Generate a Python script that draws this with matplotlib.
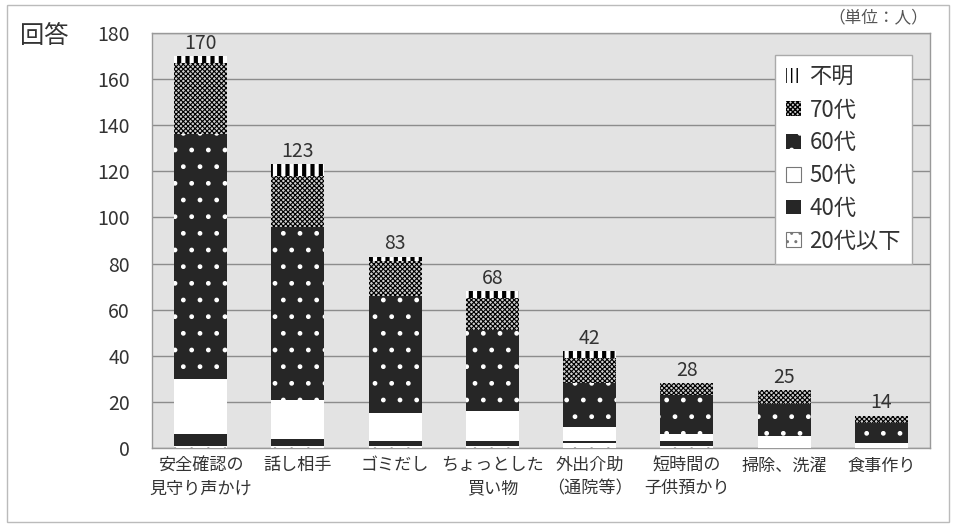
import matplotlib
matplotlib.use('Agg')
import matplotlib.pyplot as plt
from matplotlib.patches import Patch, Rectangle
import numpy as np

plt.rcParams['font.family'] = ['Noto Sans CJK JP', 'DejaVu Sans']
plt.rcParams['hatch.linewidth'] = 1.0

# data (persons)
categories = ['安全確認の\n見守り声かけ', '話し相手', 'ゴミだし', 'ちょっとした\n買い物',
              '外出介助\n（通院等）', '短時間の\n子供預かり', '掃除、洗濯', '食事作り']
age_20_under = [1, 1, 1, 1, 2, 1, 0, 0]
age_40 = [5, 3, 2, 2, 1, 2, 0, 0]
age_50 = [24, 17, 12, 13, 6, 3, 5, 2]
age_60 = [106, 75, 51, 35, 19, 17, 14, 9]
age_70 = [31, 22, 15, 14, 11, 5, 6, 3]
unknown = [3, 5, 2, 3, 3, 0, 0, 0]
totals = [170, 123, 83, 68, 42, 28, 25, 14]
yticks = [0, 20, 40, 60, 80, 100, 120, 140, 160, 180]

TXT = '#333333'
DARK = '#262626'

# (label, values, facecolor, hatchcolor, hatch, hatch linewidth)
series = [
    ('20代以下', age_20_under, 'white', 'black', '.', 1.0),
    ('40代', age_40, DARK, DARK, None, 1.0),
    ('50代', age_50, 'white', 'white', None, 1.0),
    ('60代', age_60, DARK, 'white', '.', 1.0),
    ('70代', age_70, '#d0d0d0', 'black', 'xxxxxxx', 0.8),
    ('不明', unknown, 'white', 'black', '||', 3.0),
]

fig = plt.figure(figsize=(9.57, 5.25), dpi=100)
ax = fig.add_axes([152/957, 77/525, 778/957, 415/525])
ax.set_facecolor('#e3e3e3')

x = np.arange(len(categories))
bottom = np.zeros(len(categories))
handles = []
for label, vals, fc, hc, hatch, hlw in series:
    bars = ax.bar(x, vals, 0.545, bottom=bottom, color=fc, edgecolor=hc,
                  linewidth=0, hatch=hatch, zorder=3)
    for b in bars:
        if hasattr(b, 'set_hatch_linewidth'):
            b.set_hatch_linewidth(hlw)
    h = Patch(facecolor=fc, edgecolor=hc, linewidth=0, hatch=hatch)
    if label == '50代':
        h = Patch(facecolor='white', edgecolor='#777777', linewidth=0.8)
    if label == '20代以下':
        h = Patch(facecolor='white', edgecolor='#777777', linewidth=0.8, hatch='..')
    if label == '不明':
        h = Patch(facecolor='white', edgecolor='black', linewidth=0, hatch='|||')
    if hasattr(h, 'set_hatch_linewidth'):
        h.set_hatch_linewidth(hlw)
    handles.append((h, label))
    bottom += np.array(vals)

for xi, t in zip(x, totals):
    ax.text(xi, t + 1.0, str(t), ha='center', va='bottom', fontsize=14, color=TXT)

ax.set_xlim(-0.5, len(categories) - 0.5)
ax.set_ylim(0, 180)
ax.set_yticks(yticks)
ax.set_yticklabels([str(v) for v in yticks], fontsize=14, color=TXT)
ax.set_xticks(x)
ax.set_xticklabels(categories, fontsize=12.3, color=TXT, linespacing=1.35)
ax.tick_params(axis='both', length=0)
ax.tick_params(axis='y', pad=16)
ax.tick_params(axis='x', pad=6)
ax.yaxis.grid(True, color='#8c8c8c', linewidth=1.0)
ax.set_axisbelow(True)
for s in ax.spines.values():
    s.set_color('#999999')
    s.set_linewidth(1.0)

handles = handles[::-1]
leg = ax.legend([h for h, l in handles], [l for h, l in handles],
                loc='upper right', bbox_to_anchor=(0.977, 0.948),
                fontsize=16, frameon=True, fancybox=False, framealpha=1,
                edgecolor='#aaaaaa', handlelength=0.65, handleheight=0.65,
                handletextpad=0.4, labelspacing=0.44, borderpad=0.5,
                borderaxespad=0)
for t in leg.get_texts():
    t.set_color(TXT)
leg.set_zorder(5)

fig.text(20/957, 1 - 36/525, '回答', fontsize=17.5, color=TXT, va='center', ha='left')
fig.text(928/957, 1 - 18/525, '（単位：人）', fontsize=12, color='#555555',
         va='center', ha='right')

fig.patches.append(Rectangle((7/957, 3/525), 942/957, 517/525, transform=fig.transFigure,
                             fill=False, edgecolor='#bbbbbb', linewidth=1.0))

fig.savefig('out.png', dpi=100)
